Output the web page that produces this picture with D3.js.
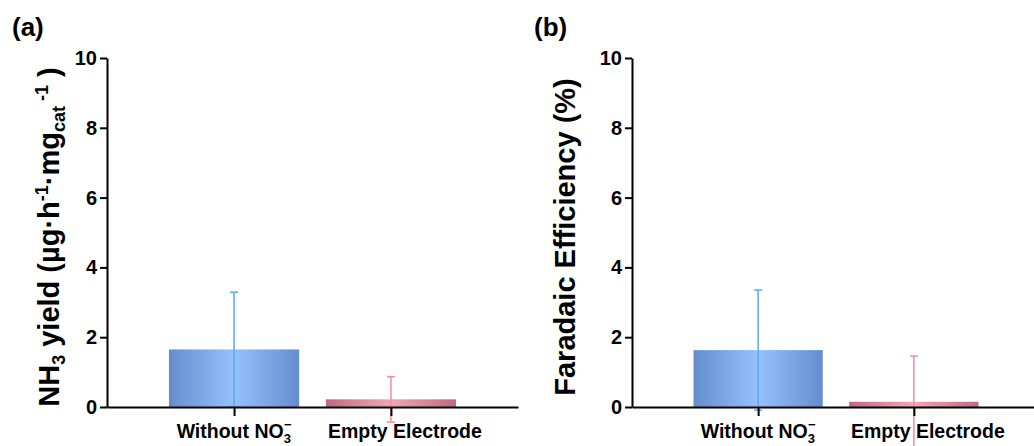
<!DOCTYPE html>
<html>
<head>
<meta charset="utf-8">
<script src="https://cdn.jsdelivr.net/npm/d3@7"></script>
<style>
  body { margin: 0; background: #fff; }
  svg { display: block; font-family: "Liberation Sans", Arial, sans-serif; font-weight: bold; }
</style>
</head>
<body>
<svg id="chart" width="1034" height="446"></svg>
<script>
// categories and values
var categories = ["Without", "Empty"];
var yieldMean = [1.65, 0.22];
var yieldErr = [1.64, 0.65];
var feMean = [1.63, 0.15];
var feErr = [1.72, 1.31];
var yTicks = [0, 2, 4, 6, 8, 10];

var svg = d3.select("#chart");
var defs = svg.append("defs");

// horizontal shading on the bars: dark edges, light middle
function shade(id, edge, mid) {
  var g = defs.append("linearGradient").attr("id", id).attr("x1", "0%").attr("x2", "100%").attr("y1", "0%").attr("y2", "0%");
  g.append("stop").attr("offset", "0%").attr("stop-color", edge);
  g.append("stop").attr("offset", "50%").attr("stop-color", mid);
  g.append("stop").attr("offset", "100%").attr("stop-color", edge);
}
shade("gBlue", "#648dcf", "#95c2fb");
shade("gPink", "#c06a82", "#efa7b8");
var fills = ["url(#gBlue)", "url(#gPink)"];
var errColors = ["#5aa8ee", "#f08aa7"];

// writes category label, with NO3- as sub/sup
function catLabel(sel, c) {
  if (c === "Without") {
    sel.append("tspan").text("Without NO");
    sel.append("tspan").style("font-size", "13px").attr("dy", 5).text("3");
    sel.append("tspan").style("font-size", "13px").attr("dx", -7).attr("dy", -14).text("\u2212");
  } else {
    sel.attr("dx", 14).text("Empty Electrode");
  }
}

function panel(opt) {
  var y = d3.scaleLinear().domain([0, 10]).range([407, 58]);
  var x = d3.scalePoint().domain(categories).range([opt.x0, opt.x1]).padding(0.81);
  var bw = x.step() * 0.83;
  var g = svg.append("g");

  // bars
  g.selectAll("rect.bar").data(opt.mean).enter().append("rect")
    .attr("class", "bar")
    .attr("x", function(d, i) { return x(categories[i]) - bw / 2; })
    .attr("y", function(d) { return y(d); })
    .attr("width", bw)
    .attr("height", function(d) { return y(0) - y(d); })
    .attr("fill", function(d, i) { return fills[i]; });

  // error bars
  opt.mean.forEach(function(m, i) {
    var cx = x(categories[i]), e = opt.err[i];
    var eg = g.append("g").attr("stroke", errColors[i]).attr("stroke-width", 1.5);
    eg.append("line").attr("x1", cx).attr("x2", cx).attr("y1", y(m - e)).attr("y2", y(m + e));
    [m - e, m + e].forEach(function(v) {
      eg.append("line").attr("x1", cx - 4).attr("x2", cx + 4).attr("y1", y(v)).attr("y2", y(v));
    });
  });

  // y axis
  var ya = g.append("g").attr("transform", "translate(" + opt.x0 + ",0)")
    .call(d3.axisLeft(y).tickValues(yTicks).tickSize(7).tickPadding(3).tickSizeOuter(0));
  ya.attr("font-size", null).attr("font-family", null);
  ya.select(".domain").attr("stroke", "#000").attr("stroke-width", 2);
  ya.selectAll(".tick line").attr("stroke", "#000").attr("stroke-width", 2);
  ya.selectAll(".tick text").style("font-size", "20px").attr("fill", "#000");

  // x axis
  var xa = g.append("g").attr("transform", "translate(0," + y(0) + ")")
    .call(d3.axisBottom(x).tickSize(9).tickSizeOuter(0).tickFormat(""));
  xa.select(".domain").attr("stroke", "#000").attr("stroke-width", 2);
  xa.selectAll(".tick line").attr("stroke", "#000").attr("stroke-width", 2);
  xa.selectAll(".tick text").remove();

  categories.forEach(function(c) {
    var t = g.append("text").attr("x", x(c)).attr("y", 438).attr("text-anchor", "middle").style("font-size", "19.5px");
    catLabel(t, c);
  });

  // panel letter
  g.append("text").attr("x", opt.lx).attr("y", 36).style("font-size", "26px").text(opt.letter);

  // y title
  var yt = g.append("text").attr("text-anchor", "middle").style("font-size", "29px")
    .attr("transform", "translate(" + opt.tx + ",237) rotate(-90)");
  opt.title(yt);
}

panel({
  x0: 107, x1: 518, mean: yieldMean, err: yieldErr, letter: "(a)", lx: 12, tx: 59,
  title: function(t) {
    t.append("tspan").text("NH");
    t.append("tspan").style("font-size", "18px").attr("dy", 6).text("3");
    t.append("tspan").attr("dy", -6).text(" yield (\u00b5g\u00b7h");
    t.append("tspan").style("font-size", "18px").attr("dy", -11).text("-1");
    t.append("tspan").attr("dy", 11).text("\u00b7mg");
    t.append("tspan").style("font-size", "18px").attr("dy", 6).text("cat");
    t.append("tspan").style("font-size", "18px").attr("dy", -17).text(" -1");
    t.append("tspan").attr("dy", 11).text(" )");
  }
});

panel({
  x0: 632, x1: 1040, mean: feMean, err: feErr, letter: "(b)", lx: 534, tx: 575,
  title: function(t) { t.text("Faradaic Efficiency (%)"); }
});
</script>
</body>
</html>
